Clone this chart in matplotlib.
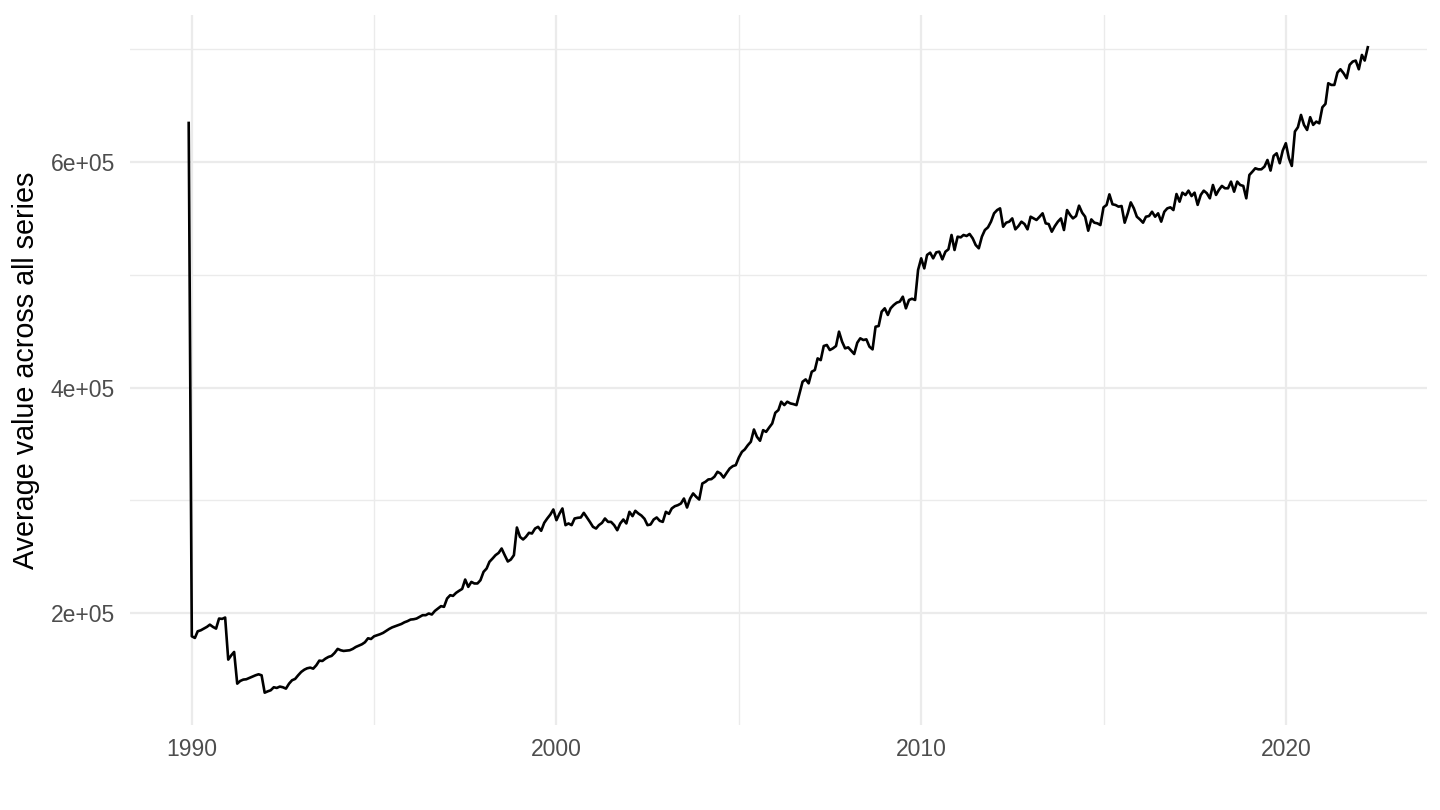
import numpy as np
import pandas as pd
import matplotlib
matplotlib.use("Agg")
import matplotlib.pyplot as plt
import matplotlib.dates as mdates
from matplotlib.ticker import FixedLocator, FuncFormatter

plt.rcParams['font.family'] = ['Liberation Sans', 'DejaVu Sans']

# monthly average across all series, in thousands (Dec 1989 .. Mar 2022)
start_month = '1989-12-01'
avg_thousands = [
    634.6,
    179.6, 178.1, 184.0, 184.9, 186.4, 187.9, 189.9, 187.9, 186.4, 195.3, 195.0, 196.2,
    158.9, 162.8, 165.7, 137.6, 140.0, 141.2, 141.5, 142.7, 143.8, 145.0, 145.9, 145.0,
    129.6, 130.8, 131.7, 134.4, 133.8, 135.0, 134.4, 133.2, 137.6, 140.6, 141.8, 145.0,
    148.0, 150.0, 151.2, 151.8, 150.9, 153.9, 158.0, 157.7, 159.8, 161.3, 162.2, 164.8,
    168.4, 167.2, 166.6, 166.9, 167.2, 168.4, 170.1, 171.3, 172.5, 174.3, 177.8, 177.2,
    179.6, 180.5, 181.4, 182.6, 184.3, 186.1, 187.5, 188.5, 189.5, 190.5, 192.0, 193.0,
    194.4, 194.7, 195.3, 196.8, 198.3, 198.3, 199.8, 198.9, 202.1, 204.2, 206.3, 205.7,
    213.1, 216.0, 215.4, 218.1, 219.9, 221.6, 229.9, 223.4, 227.8, 226.4, 226.4, 229.3,
    236.7, 239.7, 245.6, 248.5, 251.5, 253.5, 257.4, 251.5, 245.9, 247.6, 251.5, 276.0,
    267.7, 265.4, 267.7, 271.3, 270.7, 275.1, 276.6, 273.1, 280.2, 284.0, 287.5, 292.0,
    282.5, 288.4, 292.9, 278.1, 279.6, 278.1, 284.0, 284.6, 284.9, 289.0, 284.9, 281.0,
    276.6, 275.1, 278.1, 280.1, 284.0, 281.0, 281.0, 278.1, 273.6, 279.6, 283.1, 279.6,
    289.9, 286.1, 290.8, 288.4, 286.6, 283.7, 278.1, 278.7, 283.1, 284.9, 281.9, 281.0,
    289.9, 288.1, 292.9, 294.9, 295.8, 297.3, 301.7, 293.7, 301.7, 306.2, 303.2, 300.8,
    315.0, 316.5, 318.6, 318.9, 321.0, 325.4, 323.9, 320.3, 324.5, 328.3, 330.4, 331.3,
    338.1, 343.1, 345.2, 349.0, 352.0, 362.9, 356.4, 352.9, 362.3, 360.8, 364.7, 368.2,
    377.7, 380.1, 387.5, 384.5, 387.5, 386.0, 385.4, 384.5, 394.9, 405.2, 407.3, 403.8,
    414.1, 415.6, 425.9, 424.4, 436.9, 437.8, 433.3, 434.8, 436.9, 449.6, 440.7, 434.8,
    435.7, 432.7, 429.8, 439.8, 443.7, 442.2, 442.8, 436.3, 433.9, 454.0, 454.6, 467.3,
    470.3, 464.4, 470.3, 473.2, 475.3, 476.2, 480.6, 470.3, 477.7, 478.8, 477.7, 504.3,
    514.6, 505.7, 517.6, 519.6, 514.6, 519.9, 520.5, 513.7, 520.5, 522.6, 535.3, 522.0,
    533.8, 533.2, 535.3, 534.4, 536.2, 532.3, 526.4, 523.5, 533.8, 539.7, 542.1, 547.1,
    554.5, 557.4, 558.9, 542.6, 546.2, 547.1, 550.0, 540.3, 543.2, 547.1, 545.0, 540.3,
    551.5, 550.0, 548.6, 551.5, 554.5, 545.6, 545.0, 538.2, 543.2, 547.1, 550.0, 539.7,
    557.4, 553.0, 550.0, 552.1, 561.3, 555.1, 551.5, 539.1, 549.1, 546.2, 545.6, 544.1,
    559.8, 561.9, 571.3, 562.5, 561.9, 560.4, 561.0, 546.2, 554.5, 564.2, 558.9, 551.5,
    549.1, 546.2, 551.5, 552.1, 555.9, 551.5, 554.5, 547.1, 555.9, 558.9, 559.8, 557.4,
    571.6, 564.8, 572.8, 570.7, 574.6, 569.8, 572.8, 562.0, 570.8, 574.6, 572.3, 567.8,
    579.6, 570.8, 575.2, 578.8, 576.7, 576.7, 582.6, 573.7, 582.6, 579.6, 578.8, 567.8,
    588.5, 591.5, 594.4, 593.5, 593.5, 595.9, 601.8, 592.4, 605.4, 607.7, 598.9, 610.1,
    616.6, 603.3, 596.5, 627.0, 630.8, 641.7, 632.9, 628.4, 639.7, 632.9, 635.8, 634.3,
    648.5, 651.5, 669.8, 668.3, 668.3, 679.3, 682.2, 678.7, 674.2, 686.1, 689.0, 689.9,
    682.2, 694.9, 689.9, 701.7,
]

major_years = [1990, 2000, 2010, 2020]
minor_years = [1995, 2005, 2015]
y_major = [200000, 400000, 600000]
y_minor = [300000, 500000, 700000]

dates = pd.date_range(start_month, periods=len(avg_thousands), freq='MS')
values = np.array(avg_thousands) * 1000

fig = plt.figure(figsize=(14.4, 8.1), dpi=100)
ax = fig.add_axes([0.0901, 0.105, 0.9007, 0.8765])

ax.plot(dates, values, color='black', linewidth=1.9, zorder=3)

# ggplot style 5% expansion
xn = mdates.date2num(dates)
xr = xn.max() - xn.min()
ax.set_xlim(xn.min() - 0.05 * xr, xn.max() + 0.05 * xr)
yr = values.max() - values.min()
ax.set_ylim(values.min() - 0.05 * yr, values.max() + 0.05 * yr)

ax.xaxis.set_major_locator(FixedLocator([mdates.date2num(pd.Timestamp(f'{y}-01-01')) for y in major_years]))
ax.xaxis.set_minor_locator(FixedLocator([mdates.date2num(pd.Timestamp(f'{y}-01-01')) for y in minor_years]))
ax.xaxis.set_major_formatter(FuncFormatter(lambda v, p: str(mdates.num2date(v).year)))
ax.yaxis.set_major_locator(FixedLocator(y_major))
ax.yaxis.set_minor_locator(FixedLocator(y_minor))
ax.yaxis.set_major_formatter(FuncFormatter(lambda v, p: '%de+05' % round(v / 1e5)))

ax.grid(which='major', color='#EBEBEB', linewidth=1.6)
ax.grid(which='minor', color='#EBEBEB', linewidth=1.0)
ax.set_axisbelow(True)
for s in ax.spines.values():
    s.set_visible(False)

ax.tick_params(which='both', length=0)
ax.tick_params(axis='x', pad=9.5, labelsize=16.5, labelcolor='#4D4D4D')
ax.tick_params(axis='y', pad=10.5, labelsize=16.5, labelcolor='#4D4D4D')

ax.set_ylabel('Average value across all series', fontsize=20.7, color='black')
ax.yaxis.set_label_coords(-0.0691, 0.5)
ax.set_xlabel('')

fig.savefig('out.png', dpi=100, facecolor='white')
